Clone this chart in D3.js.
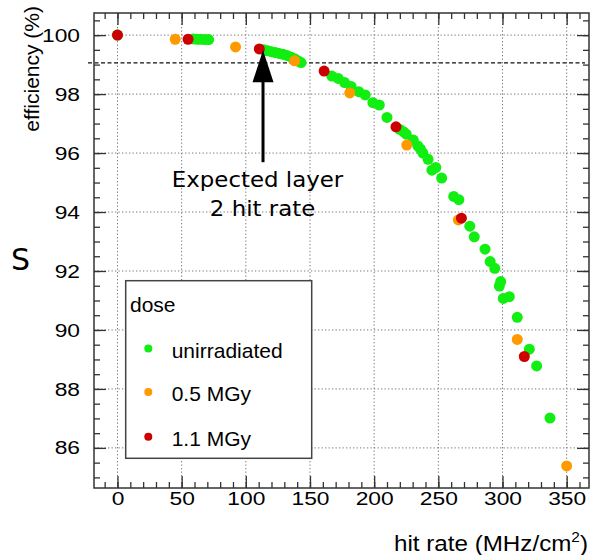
<!DOCTYPE html>
<html>
<head>
<meta charset="utf-8">
<script src="https://cdn.jsdelivr.net/npm/d3@7"></script>
<style>
  html, body { margin: 0; padding: 0; background: #fff; }
  svg { display: block; }
</style>
</head>
<body>
<svg id="chart" width="592" height="555"></svg>
<script>
// ---------------- data ----------------
const xTickValues = [0, 50, 100, 150, 200, 250, 300, 350];
const yTickValues = [86, 88, 90, 92, 94, 96, 98, 100];

const seriesNames = ["unirradiated", "0.5 MGy", "1.1 MGy"];
const seriesColors = ["#11ee11", "#ff9900", "#cc0000"];

const unirradiated = [
  [0, 100.0],
  [59, 99.87], [62, 99.86], [65, 99.86], [68, 99.85], [71, 99.85],
  [114, 99.50], [117, 99.47], [120, 99.44], [123, 99.41], [126, 99.38], [129, 99.35],
  [132, 99.31], [135, 99.26], [138, 99.20], [141, 99.12], [143, 99.07],
  [167, 98.61], [172, 98.53], [177, 98.39], [182, 98.26], [188, 98.08], [193, 97.97],
  [199, 97.71], [204, 97.63], [210, 97.21], [220, 96.80], [223, 96.72], [225, 96.64],
  [230.5, 96.44], [234, 96.24], [236, 96.14], [238, 96.0], [242, 95.79], [245, 95.42],
  [248, 95.51], [252.6, 95.15], [262, 94.53], [266, 94.42], [274.5, 93.52], [278, 93.16],
  [286.4, 92.74], [290.4, 92.32], [294, 92.09], [298.6, 91.64], [297.5, 91.49],
  [300.6, 91.07], [305.3, 91.13], [311.5, 90.43], [320.9, 89.35], [326.6, 88.78], [337, 87.01]
];
const dose05 = [
  [45, 99.86], [92, 99.60], [138, 99.13], [181, 98.04], [225.4, 96.27],
  [265.6, 93.73], [311.5, 89.68], [350, 85.39]
];
const dose11 = [
  [0, 100.0], [55, 99.86], [110.5, 99.53], [161, 98.78], [217, 96.89],
  [268, 93.79], [317, 89.10]
];
const seriesData = [unirradiated, dose05, dose11];

const thresholdEff = [99.06];
const arrowRate = [113.4];
const arrowEff = [95.69, 99.49];   // shaft start, tip
const annotationLines = ["Expected layer", "2 hit rate"];

// ---------------- layout ----------------
const svg = d3.select("#chart");
const L = 94, R = 589, T = 13, B = 488;
const x = d3.scaleLinear().domain([-18.3, 367.4]).range([L, R]);
const y = d3.scaleLinear().domain([84.64, 100.75]).range([B, T]);

const axisColor = "#333";
const sans = "'Liberation Sans', Arial, Helvetica, sans-serif";
const deja = "'DejaVu Sans', Verdana, sans-serif";

// grid
const grid = svg.append("g");
grid.selectAll("line.gx").data(xTickValues).join("line")
  .attr("x1", d => x(d)).attr("x2", d => x(d)).attr("y1", T).attr("y2", B)
  .attr("stroke", "#777").attr("stroke-width", 1).attr("stroke-dasharray", "1.3,2.2");
grid.selectAll("line.gy").data(yTickValues).join("line")
  .attr("y1", d => y(d)).attr("y2", d => y(d)).attr("x1", L).attr("x2", R)
  .attr("stroke", "#777").attr("stroke-width", 1).attr("stroke-dasharray", "1.3,2.2");

// threshold dashed line
svg.selectAll("line.thr").data(thresholdEff).join("line")
  .attr("x1", L - 6).attr("x2", R - 4).attr("y1", d => y(d)).attr("y2", d => y(d))
  .attr("stroke", "#111").attr("stroke-width", 1.4).attr("stroke-dasharray", "4,2.5");

// axes
const minorX = d3.range(-10, 367, 10);
const minorY = d3.range(85, 100.75, 0.5);

function styleAxis(g) {
  g.select(".domain").remove();
  g.selectAll(".tick line").attr("stroke", axisColor).attr("stroke-width", 1.3);
}
const stretch = 1.2;
const tickFont = 19;

// bottom major
const gB = svg.append("g").attr("transform", `translate(0,${B})`)
  .call(d3.axisBottom(x).tickValues(xTickValues).tickSize(-12).tickPadding(4).tickFormat(d3.format("d")));
styleAxis(gB);
gB.selectAll(".tick text").attr("font-family", sans).attr("font-size", tickFont).attr("fill", "#000")
  .attr("transform", `scale(${stretch},1)`);
svg.append("g").attr("transform", `translate(0,${B})`)
  .call(d3.axisBottom(x).tickValues(minorX).tickSize(-6).tickFormat(""))
  .call(styleAxis);
// top
svg.append("g").attr("transform", `translate(0,${T})`)
  .call(d3.axisTop(x).tickValues(xTickValues).tickSize(-12).tickFormat("")).call(styleAxis);
svg.append("g").attr("transform", `translate(0,${T})`)
  .call(d3.axisTop(x).tickValues(minorX).tickSize(-6).tickFormat("")).call(styleAxis);

// left
const gL = svg.append("g").attr("transform", `translate(${L},0)`)
  .call(d3.axisLeft(y).tickValues(yTickValues).tickSize(-12).tickPadding(14).tickFormat(d3.format("d")));
styleAxis(gL);
gL.selectAll(".tick text").attr("font-family", sans).attr("font-size", tickFont).attr("fill", "#000")
  .attr("x", -14 / stretch).attr("transform", `scale(${stretch},1)`);
svg.append("g").attr("transform", `translate(${L},0)`)
  .call(d3.axisLeft(y).tickValues(minorY).tickSize(-6).tickFormat("")).call(styleAxis);
// right
svg.append("g").attr("transform", `translate(${R},0)`)
  .call(d3.axisRight(y).tickValues(yTickValues).tickSize(-12).tickFormat("")).call(styleAxis);
svg.append("g").attr("transform", `translate(${R},0)`)
  .call(d3.axisRight(y).tickValues(minorY).tickSize(-6).tickFormat("")).call(styleAxis);

// frame
svg.append("rect").attr("x", L).attr("y", T).attr("width", R - L).attr("height", B - T)
  .attr("fill", "none").attr("stroke", axisColor).attr("stroke-width", 1.5);

// points
seriesData.forEach((data, i) => {
  svg.append("g").selectAll("circle").data(data).join("circle")
    .attr("cx", d => x(d[0])).attr("cy", d => y(d[1])).attr("r", 5.5)
    .attr("fill", seriesColors[i]);
});

// arrow annotation
const ax = x(arrowRate[0]);
svg.append("line").attr("x1", ax).attr("x2", ax)
  .attr("y1", y(arrowEff[0])).attr("y2", y(arrowEff[1]) + 30)
  .attr("stroke", "#000").attr("stroke-width", 3);
const tipY = y(arrowEff[1]);
svg.append("path")
  .attr("d", `M${ax},${tipY} L${ax - 10.5},${tipY + 32} L${ax + 10.5},${tipY + 32} Z`)
  .attr("fill", "#000");

const annoPos = [[257.5, 186.7], [262.5, 216]];
annotationLines.forEach((t, i) => {
  svg.append("text").attr("transform", `translate(${annoPos[i][0]},${annoPos[i][1]}) scale(1.09,1)`)
    .attr("text-anchor", "middle").attr("font-family", deja).attr("font-size", 21)
    .attr("fill", "#000").text(t);
});

// axis titles
svg.append("text").attr("transform", `translate(39,6) rotate(-90) scale(1.05,1)`)
  .attr("text-anchor", "end").attr("font-family", sans).attr("font-size", 20)
  .attr("fill", "#000").text("efficiency (%)");

const xt = svg.append("text").attr("transform", `translate(588,551) scale(1.1,1)`)
  .attr("text-anchor", "end").attr("font-family", sans).attr("font-size", 22).attr("fill", "#000");
xt.append("tspan").text("hit rate (MHz/cm");
xt.append("tspan").attr("font-size", 14).attr("dy", -9).text("2");
xt.append("tspan").attr("dy", 9).text(")");

// stray label
svg.append("text").attr("x", 11).attr("y", 270).attr("font-family", deja).attr("font-size", 30)
  .attr("fill", "#000").text("S");

// legend
const lg = svg.append("g");
lg.append("rect").attr("x", 125.7).attr("y", 280.7).attr("width", 186).attr("height", 177.6)
  .attr("fill", "#fff").attr("stroke", "#444").attr("stroke-width", 1.5);
lg.append("text").attr("x", 130).attr("y", 311.7).attr("font-family", sans).attr("font-size", 21)
  .attr("fill", "#000").text("dose");
const legY = [348.5, 392, 436.7];
seriesNames.forEach((n, i) => {
  lg.append("circle").attr("cx", 148.3).attr("cy", legY[i]).attr("r", 4).attr("fill", seriesColors[i]);
  lg.append("text").attr("x", 171.7).attr("y", legY[i] + 9).attr("font-family", sans).attr("font-size", 21)
    .attr("fill", "#000").text(n);
});
</script>
</body>
</html>
